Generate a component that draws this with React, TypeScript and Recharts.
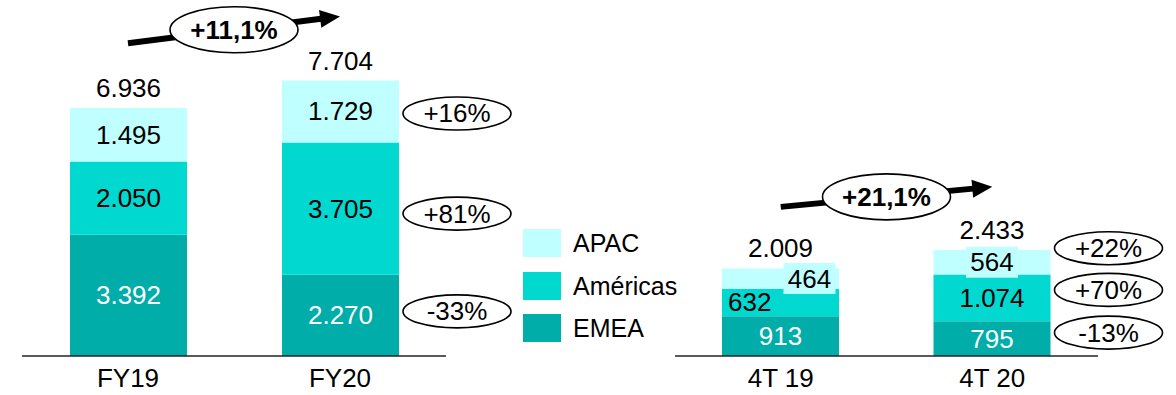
import { BarChart, Bar, XAxis, YAxis, LabelList, Legend, ReferenceLine } from 'recharts'

const FONT = '"Liberation Sans", Arial, Helvetica, sans-serif'
const FONT_SIZE = 26

const APAC_COLOR = '#bfffff'
const AMERICAS_COLOR = '#00d8d0'
const EMEA_COLOR = '#00ada8'

// Full year revenue by region
const yearCategories = ['FY19', 'FY20']
const yearEmea = [3392, 2270]
const yearAmericas = [2050, 3705]
const yearApac = [1495, 1729]
const yearTotals = [6936, 7704]
const yearGrowth = { emea: '-33%', americas: '+81%', apac: '+16%' }
const yearTotalGrowth = '+11,1%'

// Fourth quarter revenue by region
const quarterCategories = ['4T 19', '4T 20']
const quarterEmea = [913, 795]
const quarterAmericas = [632, 1074]
const quarterApac = [464, 564]
const quarterTotals = [2009, 2433]
const quarterGrowth = { emea: '-13%', americas: '+70%', apac: '+22%' }
const quarterTotalGrowth = '+21,1%'

// legend lists the top of the stack first
const legendOrder = ['APAC', 'Américas', 'EMEA']

const fmt = (v: number) => String(v).replace(/\B(?=(\d{3})+(?!\d))/g, '.')

type Growth = { emea: string; americas: string; apac: string }

function buildRows(
  categories: string[],
  emea: number[],
  americas: number[],
  apac: number[],
  totals: number[],
  growth: Growth,
) {
  const last = categories.length - 1
  return categories.map((name, i) => ({
    name,
    emea: emea[i],
    americas: americas[i],
    apac: apac[i],
    total: totals[i],
    emeaGrowth: i === last ? growth.emea : null,
    americasGrowth: i === last ? growth.americas : null,
    apacGrowth: i === last ? growth.apac : null,
  }))
}

const yearRows = buildRows(yearCategories, yearEmea, yearAmericas, yearApac, yearTotals, yearGrowth)
const quarterRows = buildRows(
  quarterCategories,
  quarterEmea,
  quarterAmericas,
  quarterApac,
  quarterTotals,
  quarterGrowth,
)

const boxOf = (props: any) => props.viewBox ?? props

interface SegmentStyle {
  color: string
  anchor?: ('start' | 'middle')[]
  shiftX?: number[]
  boxFill?: string
}

const segmentLabel = (s: SegmentStyle) => (props: any) => {
  const { x, y, width, height } = boxOf(props)
  const i = props.index ?? 0
  const anchor = s.anchor?.[i] ?? 'middle'
  const cx = anchor === 'start' ? x + 6 : x + width / 2 + (s.shiftX?.[i] ?? 0)
  const cy = y + height / 2
  return (
    <g>
      {s.boxFill && <rect x={cx - 26} y={cy - 15.5} width={52} height={31} fill={s.boxFill} />}
      <text
        x={cx}
        y={cy}
        textAnchor={anchor}
        dominantBaseline="central"
        fill={s.color}
        fontSize={FONT_SIZE}
        fontFamily={FONT}
      >
        {fmt(Number(props.value))}
      </text>
    </g>
  )
}

const totalLabel = (props: any) => {
  const { x, y, width } = boxOf(props)
  return (
    <text
      x={x + width / 2}
      y={y - 20}
      textAnchor="middle"
      dominantBaseline="central"
      fill="#000"
      fontSize={FONT_SIZE}
      fontFamily={FONT}
    >
      {fmt(Number(props.value))}
    </text>
  )
}

// growth badge drawn to the right of the latest bar
const growthBadge = (shift: number) => (props: any) => {
  if (!props.value) return null
  const { x, y, width, height } = boxOf(props)
  const cx = x + width + 58
  const cy = y + height / 2 + shift
  return (
    <g>
      <ellipse cx={cx} cy={cy} rx={54} ry={16.5} fill="#fff" stroke="#000" strokeWidth={1.6} />
      <text
        x={cx}
        y={cy}
        textAnchor="middle"
        dominantBaseline="central"
        fill="#000"
        fontSize={FONT_SIZE}
        fontFamily={FONT}
      >
        {props.value}
      </text>
    </g>
  )
}

const growthArrow = (label: string) => (props: any) => {
  const { x1, y1, x2, y2 } = props
  const a = Math.atan2(y2 - y1, x2 - x1)
  const cos = Math.cos(a)
  const sin = Math.sin(a)
  const head = 20
  const half = 9
  const bx = x2 - head * cos
  const by = y2 - head * sin
  const mx = (x1 + x2) / 2
  const my = (y1 + y2) / 2
  const tri = [
    `${x2},${y2}`,
    `${bx - sin * half},${by + cos * half}`,
    `${bx + sin * half},${by - cos * half}`,
  ].join(' ')
  return (
    <g>
      <line x1={x1} y1={y1} x2={bx + cos} y2={by + sin} stroke="#000" strokeWidth={6} />
      <polygon points={tri} fill="#000" />
      <ellipse cx={mx} cy={my} rx={64} ry={23} fill="#fff" stroke="#000" strokeWidth={1.6} />
      <text
        x={mx}
        y={my}
        textAnchor="middle"
        dominantBaseline="central"
        fill="#000"
        fontSize={FONT_SIZE}
        fontWeight="bold"
        fontFamily={FONT}
      >
        {label}
      </text>
    </g>
  )
}

const CategoryTick = (props: any) => (
  <text
    x={props.x}
    y={props.y + 31}
    textAnchor="middle"
    fill="#000"
    fontSize={FONT_SIZE}
    fontFamily={FONT}
  >
    {props.payload.value}
  </text>
)

const renderLegend = (props: any) => {
  const items = [...(props.payload ?? [])].sort(
    (a: any, b: any) => legendOrder.indexOf(a.value) - legendOrder.indexOf(b.value),
  )
  return (
    <div style={{ fontFamily: FONT, fontSize: 25, color: '#000' }}>
      {items.map((item: any) => (
        <div
          key={item.value}
          style={{ display: 'flex', alignItems: 'center', height: 28, marginBottom: 14.5 }}
        >
          <span style={{ width: 38, height: 28, background: item.color, marginRight: 12 }} />
          <span style={{ lineHeight: '28px' }}>{item.value}</span>
        </div>
      ))}
    </div>
  )
}

interface PanelProps {
  rows: ReturnType<typeof buildRows>
  width: number
  margin: { top: number; right: number; bottom: number; left: number }
  yMax: number
  arrowLevels: [number, number]
  totalGrowth: string
  badgeShift: { emea: number; americas: number; apac: number }
  emeaStyle: SegmentStyle
  americasStyle: SegmentStyle
  apacStyle: SegmentStyle
  showLegend?: boolean
}

function RegionPanel(p: PanelProps) {
  const first = p.rows[0].name
  const last = p.rows[p.rows.length - 1].name
  return (
    <BarChart width={p.width} height={395} data={p.rows} margin={p.margin}>
      <XAxis
        dataKey="name"
        height={39}
        axisLine={{ stroke: '#222', strokeWidth: 1.5 }}
        tickLine={false}
        tickSize={0}
        tickMargin={0}
        tick={<CategoryTick />}
        interval={0}
      />
      <YAxis hide width={0} type="number" domain={[0, p.yMax]} allowDataOverflow />
      <Bar dataKey="emea" name="EMEA" stackId="r" fill={EMEA_COLOR} barSize={117} isAnimationActive={false}>
        <LabelList dataKey="emea" content={segmentLabel(p.emeaStyle)} />
        <LabelList dataKey="emeaGrowth" content={growthBadge(p.badgeShift.emea)} />
      </Bar>
      <Bar
        dataKey="americas"
        name="Américas"
        stackId="r"
        fill={AMERICAS_COLOR}
        barSize={117}
        isAnimationActive={false}
      >
        <LabelList dataKey="americas" content={segmentLabel(p.americasStyle)} />
        <LabelList dataKey="americasGrowth" content={growthBadge(p.badgeShift.americas)} />
      </Bar>
      <Bar dataKey="apac" name="APAC" stackId="r" fill={APAC_COLOR} barSize={117} isAnimationActive={false}>
        <LabelList dataKey="apac" content={segmentLabel(p.apacStyle)} />
        <LabelList dataKey="apacGrowth" content={growthBadge(p.badgeShift.apac)} />
        <LabelList dataKey="total" content={totalLabel} />
      </Bar>
      <ReferenceLine
        segment={[
          { x: first, y: p.arrowLevels[0] },
          { x: last, y: p.arrowLevels[1] },
        ]}
        ifOverflow="visible"
        shape={growthArrow(p.totalGrowth)}
      />
      {p.showLegend && (
        <Legend
          layout="vertical"
          verticalAlign="middle"
          align="center"
          wrapperStyle={{ left: 523, top: 229 }}
          content={renderLegend}
        />
      )}
    </BarChart>
  )
}

export default function App() {
  return (
    <div
      style={{
        position: 'absolute',
        left: 0,
        top: 0,
        width: 1176,
        height: 395,
        background: '#fff',
        fontFamily: FONT,
      }}
    >
      <div style={{ position: 'absolute', left: 0, top: 0 }}>
        <RegionPanel
          rows={yearRows}
          width={640}
          margin={{ top: 70, right: 194, bottom: 0, left: 22 }}
          yMax={8000}
          arrowLevels={[8750, 9500]}
          totalGrowth={yearTotalGrowth}
          badgeShift={{ emea: -4, americas: 5, apac: 2 }}
          emeaStyle={{ color: '#fff' }}
          americasStyle={{ color: '#000' }}
          apacStyle={{ color: '#000' }}
          showLegend
        />
      </div>
      <div style={{ position: 'absolute', left: 640, top: 0 }}>
        <RegionPanel
          rows={quarterRows}
          width={536}
          margin={{ top: 247, right: 78, bottom: 0, left: 35 }}
          yMax={2500}
          arrowLevels={[3420, 3880]}
          totalGrowth={quarterTotalGrowth}
          badgeShift={{ emea: -6, americas: -8, apac: -14 }}
          emeaStyle={{ color: '#fff' }}
          americasStyle={{ color: '#000', anchor: ['start', 'middle'] }}
          apacStyle={{ color: '#000', shiftX: [29, 0], boxFill: APAC_COLOR }}
        />
      </div>
    </div>
  )
}
